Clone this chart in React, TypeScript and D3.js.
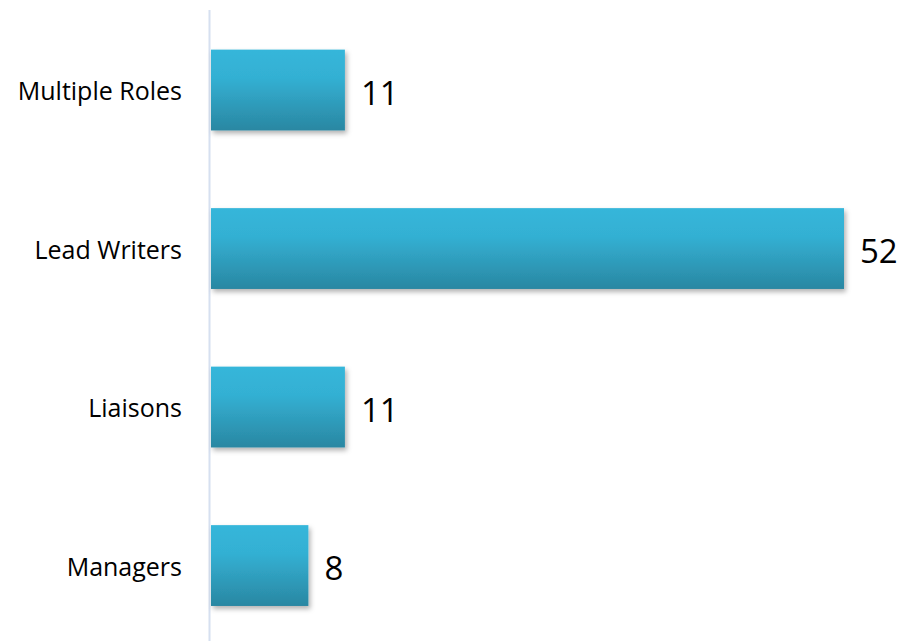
import React from "react";
import * as d3 from "d3";

const categories = ["Multiple Roles", "Lead Writers", "Liaisons", "Managers"];
const values = [11, 52, 11, 8];

const W = 897;
const H = 641;

export default function App() {
  const x = d3.scaleLinear().domain([0, 52]).range([211, 844]);
  const y = d3
    .scaleBand<string>()
    .domain(categories)
    .range([10, 645.6])
    .paddingInner(0.49)
    .paddingOuter(0.25);

  return (
    <svg
      width={W}
      height={H}
      style={{ position: "absolute", left: 0, top: 0, background: "#fff" }}
    >
      <defs>
        <linearGradient id="barGrad" x1="0" y1="0" x2="0" y2="1">
          <stop offset="0%" stopColor="#36b6da" />
          <stop offset="35%" stopColor="#33b0d3" />
          <stop offset="100%" stopColor="#2a87a2" />
        </linearGradient>
        <filter id="shadow" x="-10%" y="-20%" width="130%" height="150%">
          <feDropShadow dx="2" dy="3" stdDeviation="2.5" floodColor="#000" floodOpacity="0.3" />
        </filter>
      </defs>
      <line x1={209.5} x2={209.5} y1={10} y2={641} stroke="#d6e0f0" strokeWidth={2} />
      {categories.map((c, i) => (
        <g key={c}>
          <rect
            x={x(0)}
            y={y(c)}
            width={x(values[i]) - x(0)}
            height={y.bandwidth()}
            fill="url(#barGrad)"
            filter="url(#shadow)"
          />
          <text
            x={182}
            y={(y(c) as number) + y.bandwidth() / 2}
            textAnchor="end"
            dominantBaseline="central"
            fontFamily="'Open Sans', sans-serif"
            fontSize={25}
            fill="#000"
          >
            {c}
          </text>
          <text
            x={x(values[i]) + 16}
            y={(y(c) as number) + y.bandwidth() / 2 + 2}
            textAnchor="start"
            dominantBaseline="central"
            fontFamily="'Open Sans', sans-serif"
            fontSize={33}
            fill="#000"
          >
            {values[i]}
          </text>
        </g>
      ))}
    </svg>
  );
}
